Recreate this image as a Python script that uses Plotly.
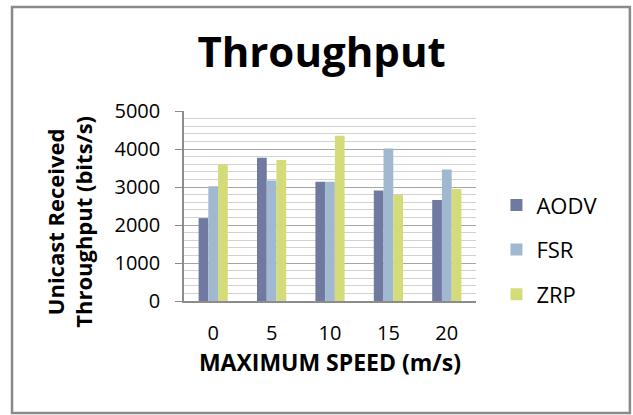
import plotly.graph_objects as go

speeds = ["0", "5", "10", "15", "20"]
aodv = [2180, 3770, 3140, 2910, 2660]
fsr = [3020, 3170, 3140, 4010, 3460]
zrp = [3590, 3710, 4350, 2790, 2950]
y_ticks = [0, 1000, 2000, 3000, 4000, 5000]

FONT = "Open Sans"
colors = {"AODV": "#707AA0", "FSR": "#A0B8D0", "ZRP": "#D4DC7A"}

fig = go.Figure()
for name, vals in [("AODV", aodv), ("FSR", fsr), ("ZRP", zrp)]:
    fig.add_trace(go.Bar(
        x=speeds, y=vals, name=name, legendgroup=name,
        marker=dict(color=colors[name], line=dict(width=0)),
    ))

fig.update_layout(
    width=633, height=415,
    margin=dict(l=184, r=157, t=111, b=114),
    paper_bgcolor="white", plot_bgcolor="white",
    barmode="group", bargap=0.5, bargroupgap=0,
    font=dict(family=FONT, color="black", size=20),
    title=dict(text="<b>Throughput</b>", x=0.508, xanchor="center",
               y=0.875, yanchor="middle",
               font=dict(family=FONT, size=42, color="black")),
    showlegend=True,
    legend=dict(x=1.07, xanchor="left", y=0.27, yanchor="middle",
                font=dict(family=FONT, size=22), tracegroupgap=13,
                itemwidth=30, bgcolor="rgba(0,0,0,0)"),
    xaxis=dict(
        showline=True, linecolor="#8c8c8c", linewidth=1.5,
        ticks="", tickfont=dict(size=20), ticklabelstandoff=13,
        title=dict(text="<b>MAXIMUM SPEED (m/s)</b>", font=dict(size=23), standoff=9),
    ),
    yaxis=dict(
        range=[0, 5000], tickvals=y_ticks,
        showline=True, linecolor="#8c8c8c", linewidth=1.5,
        ticks="outside", ticklen=7, tickcolor="#8c8c8c",
        tickfont=dict(size=20), ticklabelstandoff=11,
        showgrid=True, gridcolor="#a6a6a6", gridwidth=1.2,
        minor=dict(dtick=200, showgrid=True, gridcolor="#d2d2d2", gridwidth=1.2),
        zeroline=False,
    ),
    shapes=[dict(type="rect", xref="paper", yref="paper",
                 x0=-0.589, x1=1.527, y0=-0.589, y1=1.547,
                 line=dict(color="#8a8a8a", width=2.5))],
    annotations=[dict(
        text="<b>Unicast Received<br>Throughput (bits/s)</b>",
        xref="paper", yref="paper", x=-0.395, y=0.415,
        xanchor="center", yanchor="middle", textangle=-90,
        showarrow=False, font=dict(family=FONT, size=22),
    )],
)

fig.write_html("out.html")
